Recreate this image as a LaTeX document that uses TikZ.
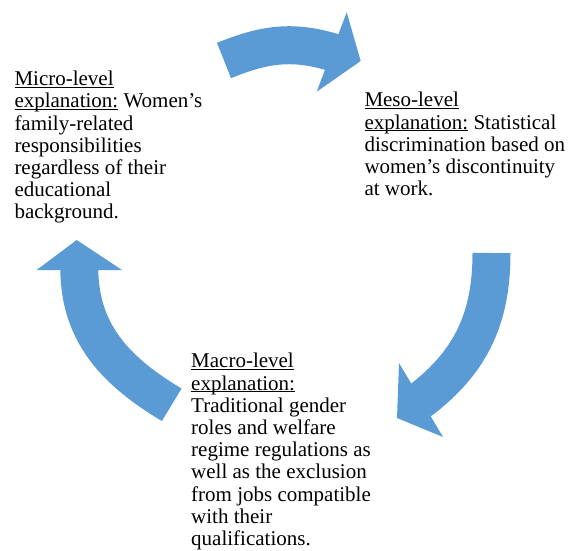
\documentclass[tikz,border=0pt]{standalone}
\usepackage{fontspec}
\setmainfont{Liberation Serif}
\usepackage{tikz}
\usetikzlibrary{arrows.meta}
\definecolor{cycblue}{HTML}{5B9BD5}
\newcommand{\lvlul}[1]{\underline{\smash{#1}}}

\begin{document}
\begin{tikzpicture}[x=1pt, y=1pt, every node/.style={font=\fontsize{21}{22.2}\selectfont}, lvl/.style={align=left,anchor=north west,inner sep=0pt}, shaft/.style={draw=cycblue,line width=38pt,shorten >=-2pt}, head/.style={fill=cycblue}]
\useasboundingbox (0,0) rectangle (570,550);
% the three explanation levels
\node[lvl] (micro) at (14.3,464.5) {\lvlul{Micro-level}\\\lvlul{explanation:} Women's\\family-related\\responsibilities\\regardless of their\\educational\\background.};
\node[lvl] (meso) at (364.3,443.3) {\lvlul{Meso-level}\\\lvlul{explanation:} Statistical\\discrimination based on\\women's discontinuity\\at work.};
\node[lvl] (macro) at (191,182.3) {\lvlul{Macro-level}\\\lvlul{explanation:}\\Traditional gender\\roles and welfare\\regime regulations as\\well as the exclusion\\from jobs compatible\\with their\\qualifications.};
% cycle arrows: tail, base of head, barbs, tip
\coordinate (topTail) at (224,489.5); \coordinate (topBase) at (331.7,498);
\coordinate (topBarbA) at (346.7,537.7); \coordinate (topBarbB) at (316.7,458.3); \coordinate (topTip) at (360.7,489);
\coordinate (rightTail) at (491.5,297); \coordinate (rightBase) at (421,150);
\coordinate (rightBarbA) at (399,187); \coordinate (rightBarbB) at (443,113); \coordinate (rightTip) at (397,132);
\coordinate (leftTail) at (171.7,145.2); \coordinate (leftBase) at (79.3,280);
\coordinate (leftBarbA) at (36.7,280); \coordinate (leftBarbB) at (122,280); \coordinate (leftTip) at (76.7,310);
\draw[shaft] (topTail) to[out=22,in=163] (topBase);
\fill[head] (topBarbA) -- (topTip) -- (topBarbB) -- cycle;
\draw[shaft] (rightTail) to[out=270,in=37] (rightBase);
\fill[head] (rightBarbA) -- (rightTip) -- (rightBarbB) -- cycle;
\draw[shaft] (leftTail) to[out=149,in=270] (leftBase);
\fill[head] (leftBarbA) -- (leftTip) -- (leftBarbB) -- cycle;
\end{tikzpicture}
\end{document}
